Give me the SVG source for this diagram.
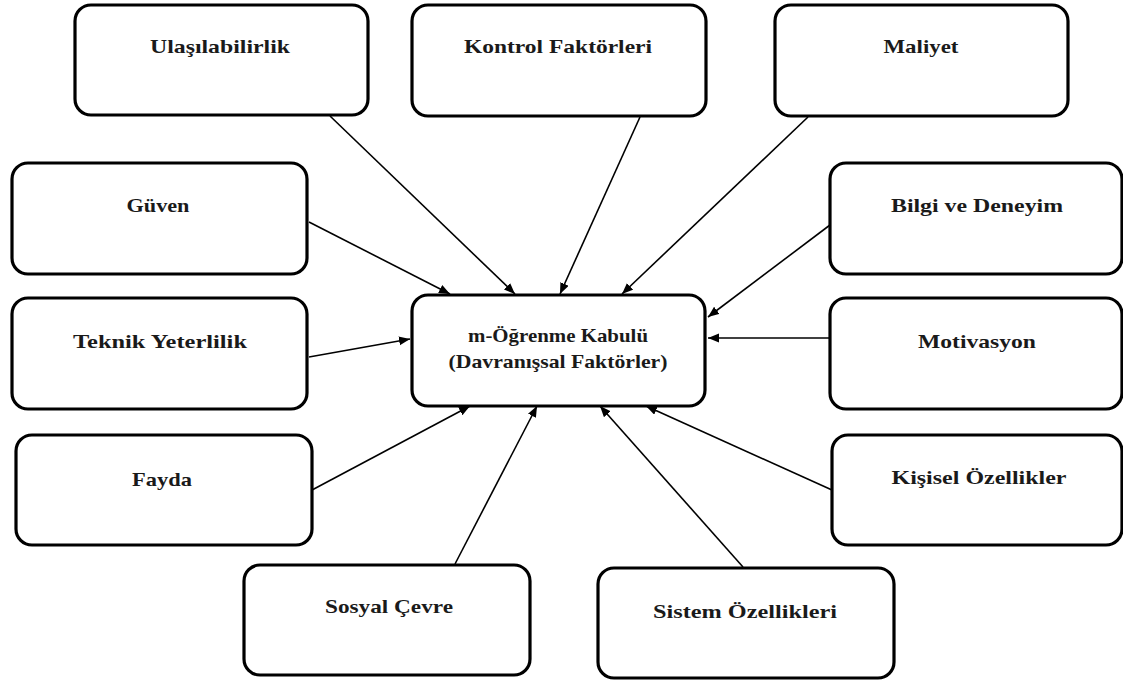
<svg xmlns="http://www.w3.org/2000/svg" width="1123" height="683" viewBox="0 0 1123 683">
<style>
.box{fill:#fff;stroke:#000;stroke-width:3.2}
.lbl{font-family:"Liberation Serif","DejaVu Serif",serif;font-weight:bold;font-size:19px;fill:#1a1a1a;text-anchor:middle}
.con{stroke:#000;stroke-width:1.6;fill:none;marker-end:url(#ah)}
</style>
<defs>
<marker id="ah" markerUnits="userSpaceOnUse" markerWidth="12" markerHeight="10" refX="11" refY="4.5" orient="auto">
<path d="M0,0 L11,4.5 L0,9 z" fill="#000"/>
</marker>
</defs>
<rect width="1123" height="683" fill="#fff"/>
<g id="connectors">
<line class="con" x1="330" y1="116" x2="515" y2="294"/>
<line class="con" x1="640" y1="117" x2="560" y2="294"/>
<line class="con" x1="808" y1="117" x2="622" y2="294"/>
<line class="con" x1="309" y1="222" x2="450" y2="294"/>
<line class="con" x1="830" y1="225" x2="708" y2="317"/>
<line class="con" x1="309" y1="357" x2="410" y2="339"/>
<line class="con" x1="830" y1="338" x2="708" y2="338"/>
<line class="con" x1="312" y1="490" x2="470" y2="406"/>
<line class="con" x1="455" y1="564" x2="537" y2="406"/>
<line class="con" x1="743" y1="567" x2="600" y2="406"/>
<line class="con" x1="832" y1="490" x2="646" y2="406"/>
</g>
<g id="center">
<rect class="box" x="412" y="295" width="293" height="111" rx="16"/>
<text class="lbl" x="558" y="342" textLength="180" lengthAdjust="spacingAndGlyphs">m-Öğrenme Kabulü</text>
<text class="lbl" x="558" y="368" textLength="219" lengthAdjust="spacingAndGlyphs">(Davranışsal Faktörler)</text>
</g>
<g id="ulasilabilirlik">
<rect class="box" x="75" y="5" width="293" height="110" rx="16"/>
<text class="lbl" x="220" y="53" textLength="140" lengthAdjust="spacingAndGlyphs">Ulaşılabilirlik</text>
</g>
<g id="kontrol">
<rect class="box" x="412" y="5" width="294" height="111" rx="16"/>
<text class="lbl" x="558" y="53" textLength="188" lengthAdjust="spacingAndGlyphs">Kontrol Faktörleri</text>
</g>
<g id="maliyet">
<rect class="box" x="775" y="5" width="293" height="111" rx="16"/>
<text class="lbl" x="921" y="53" textLength="75" lengthAdjust="spacingAndGlyphs">Maliyet</text>
</g>
<g id="guven">
<rect class="box" x="12" y="163" width="295" height="111" rx="16"/>
<text class="lbl" x="158" y="212" textLength="63" lengthAdjust="spacingAndGlyphs">Güven</text>
</g>
<g id="bilgi">
<rect class="box" x="830" y="163" width="292" height="111" rx="16"/>
<text class="lbl" x="977" y="212" textLength="172" lengthAdjust="spacingAndGlyphs">Bilgi ve Deneyim</text>
</g>
<g id="teknik">
<rect class="box" x="12" y="298" width="295" height="111" rx="16"/>
<text class="lbl" x="160" y="348" textLength="174" lengthAdjust="spacingAndGlyphs">Teknik Yeterlilik</text>
</g>
<g id="motivasyon">
<rect class="box" x="830" y="298" width="292" height="111" rx="16"/>
<text class="lbl" x="977" y="348" textLength="118" lengthAdjust="spacingAndGlyphs">Motivasyon</text>
</g>
<g id="fayda">
<rect class="box" x="16" y="435" width="296" height="110" rx="16"/>
<text class="lbl" x="162" y="486" textLength="60" lengthAdjust="spacingAndGlyphs">Fayda</text>
</g>
<g id="kisisel">
<rect class="box" x="832" y="435" width="290" height="110" rx="16"/>
<text class="lbl" x="979" y="484" textLength="175" lengthAdjust="spacingAndGlyphs">Kişisel Özellikler</text>
</g>
<g id="sosyal">
<rect class="box" x="244" y="565" width="286" height="110" rx="16"/>
<text class="lbl" x="389" y="613" textLength="128" lengthAdjust="spacingAndGlyphs">Sosyal Çevre</text>
</g>
<g id="sistem">
<rect class="box" x="598" y="568" width="296" height="110" rx="16"/>
<text class="lbl" x="745" y="618" textLength="184" lengthAdjust="spacingAndGlyphs">Sistem Özellikleri</text>
</g>
</svg>
